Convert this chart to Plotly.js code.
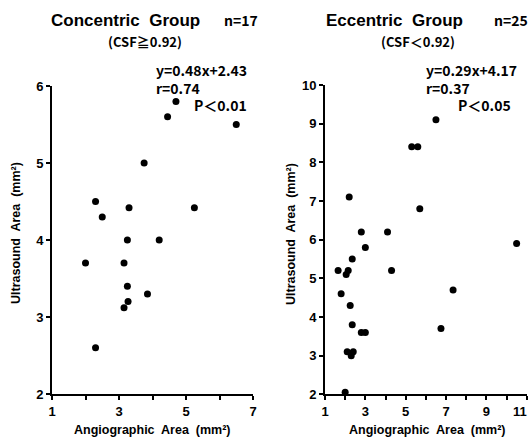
<!DOCTYPE html>
<html>
<head>
<meta charset="utf-8">
<script src="https://cdn.plot.ly/plotly-3.0.1.min.js"></script>
<style>html,body{margin:0;padding:0;background:#fff;}#chart{width:529px;height:438px;overflow:hidden;}</style>
</head>
<body>
<div id="chart"></div>
<script>
// Concentric group (n=17)
const concentricX = [4.7, 4.45, 6.5, 3.75, 2.3, 2.5, 3.3, 5.25, 3.25, 4.2, 2.0, 3.15, 3.25, 3.85, 3.27, 3.15, 2.3];
const concentricY = [5.8, 5.6, 5.5, 5.0, 4.5, 4.3, 4.42, 4.42, 4.0, 4.0, 3.7, 3.7, 3.4, 3.3, 3.2, 3.12, 2.6];
// Eccentric group (n=25)
const eccentricX = [6.5, 5.3, 5.6, 2.2, 5.7, 2.8, 4.1, 3.0, 10.5, 2.35, 1.65, 2.15, 2.05, 4.3, 1.8, 7.35, 2.25, 2.35, 6.75, 2.8, 3.0, 2.1, 2.3, 2.4, 2.0];
const eccentricY = [9.1, 8.4, 8.4, 7.1, 6.8, 6.2, 6.2, 5.8, 5.9, 5.5, 5.2, 5.2, 5.1, 5.2, 4.6, 4.7, 4.3, 3.8, 3.7, 3.6, 3.6, 3.1, 3.0, 3.1, 2.05];

const leftXTicks = [1, 2, 3, 4, 5, 6, 7];
const leftXLabels = ['1', '', '3', '', '5', '', '7'];
const leftYTicks = [2, 3, 4, 5, 6];
const rightXTicks = [1, 2, 3, 4, 5, 6, 7, 8, 9, 10, 11];
const rightXLabels = ['1', '', '3', '', '5', '', '7', '', '9', '', ''];
const rightLastTick = 11;
const rightLastLabel = '11';
const rightYTicks = [2, 3, 4, 5, 6, 7, 8, 9, 10];

const W = 529, H = 438;
const px = v => v / W;
const py = v => 1 - v / H;

const tickFont = {family: '"Liberation Sans Narrow", "Arial Narrow", "Liberation Sans", sans-serif', size: 13, color: '#000', weight: 'bold'};
const titleFont = {family: '"Liberation Sans", Arial, sans-serif', size: 12.5, color: '#000', weight: 'bold'};
const gothic = '"Noto Sans CJK JP", "DejaVu Sans", sans-serif';
const gFont = s => ({family: gothic, size: s, color: '#000', weight: 'bold'});
const headFont = {family: '"Liberation Sans", Arial, sans-serif', size: 17, color: '#000', weight: 'bold'};

const marker = {color: '#000', size: 7};

function axis(extra) {
  return Object.assign({
    showline: true, linecolor: '#000', linewidth: 2,
    ticks: 'outside', ticklen: 4, tickwidth: 2, tickcolor: '#000',
    showgrid: false, zeroline: false, tickfont: tickFont, fixedrange: true
  }, extra);
}

const data = [
  {x: concentricX, y: concentricY, type: 'scatter', mode: 'markers', marker: marker, xaxis: 'x', yaxis: 'y', cliponaxis: false, hoverinfo: 'none'},
  {x: eccentricX, y: eccentricY, type: 'scatter', mode: 'markers', marker: marker, xaxis: 'x2', yaxis: 'y2', cliponaxis: false, hoverinfo: 'none'}
];

const layout = {
  width: W, height: H,
  margin: {l: 0, r: 0, t: 0, b: 0},
  paper_bgcolor: '#fff', plot_bgcolor: '#fff',
  showlegend: false,
  xaxis: axis({domain: [px(52), px(253)], range: [1, 7], tickmode: 'array', tickvals: leftXTicks, ticktext: leftXLabels, anchor: 'y'}),
  yaxis: axis({domain: [py(394), py(86)], range: [2, 6], tickmode: 'array', tickvals: leftYTicks, anchor: 'x'}),
  xaxis2: axis({domain: [px(325), px(526.7)], range: [1, 11], tickmode: 'array', tickvals: rightXTicks, ticktext: rightXLabels, anchor: 'y2'}),
  yaxis2: axis({domain: [py(394.3), py(85)], range: [2, 10], tickmode: 'array', tickvals: rightYTicks, anchor: 'x2'}),
  annotations: [
    {text: '<b>Concentric  Group</b>', x: px(49), y: py(21), xanchor: 'left', yanchor: 'middle', font: headFont},
    {text: '<b>n=17</b>', x: px(222), y: py(20), xanchor: 'left', yanchor: 'middle', font: gFont(14)},
    {text: '<b>(CSF≧0.92)</b>', x: px(106), y: py(42), xanchor: 'left', yanchor: 'middle', font: gFont(13)},
    {text: '<b>y=0.48x+2.43<br>r=0.74</b>', x: px(154), y: py(79), xanchor: 'left', yanchor: 'middle', align: 'left', font: gFont(14)},
    {text: '<b>P＜0.01</b>', x: px(192), y: py(105), xanchor: 'left', yanchor: 'middle', font: gFont(14)},
    {text: '<b>Angiographic  Area  (mm²)</b>', x: px(152), y: py(430), xanchor: 'center', yanchor: 'middle', font: titleFont},
    {text: '<b>Ultrasound  Area  (mm²)</b>', x: px(16), y: py(233), xanchor: 'center', yanchor: 'middle', textangle: -90, font: titleFont},

    {text: '<b>Eccentric  Group</b>', x: px(324), y: py(21), xanchor: 'left', yanchor: 'middle', font: headFont},
    {text: '<b>n=25</b>', x: px(492), y: py(20), xanchor: 'left', yanchor: 'middle', font: gFont(14)},
    {text: '<b>(CSF＜0.92)</b>', x: px(379), y: py(42), xanchor: 'left', yanchor: 'middle', font: gFont(13)},
    {text: '<b>y=0.29x+4.17<br>r=0.37</b>', x: px(424), y: py(79), xanchor: 'left', yanchor: 'middle', align: 'left', font: gFont(14)},
    {text: '<b>P＜0.05</b>', x: px(456), y: py(105), xanchor: 'left', yanchor: 'middle', font: gFont(14)},
    {text: '<b>Angiographic  Area  (mm²)</b>', x: px(427), y: py(430), xanchor: 'center', yanchor: 'middle', font: titleFont},
    {text: '<b>Ultrasound  Area  (mm²)</b>', x: px(291), y: py(234), xanchor: 'center', yanchor: 'middle', textangle: -90, font: titleFont},
    {text: rightLastLabel, xref: 'x2', x: rightLastTick, xshift: 2, y: py(411), xanchor: 'right', yanchor: 'middle', font: tickFont}
  ].map(a => Object.assign({xref: 'paper', yref: 'paper', showarrow: false}, a))
};

Plotly.newPlot('chart', data, layout, {staticPlot: true, displayModeBar: false});
</script>
</body>
</html>
